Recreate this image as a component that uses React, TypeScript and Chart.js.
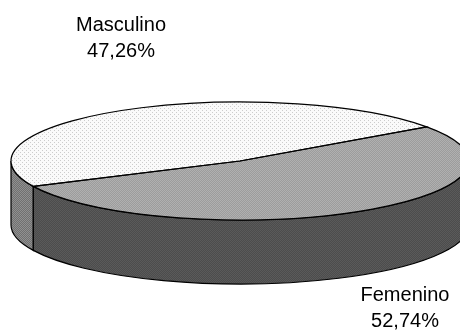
import React, { useEffect, useRef } from "react";
import { Chart, registerables } from "chart.js";

Chart.register(...registerables);

const categories = ["Masculino", "Femenino"];
const shares = [47.26, 52.74];
const shareLabels = ["47,26%", "52,74%"];
const topMasc = ["#fafafa", "#cccccc"];
const topFem = ["#9c9c9c", "#b0b0b0"];
const sideMasc = ["#707070", "#909090"];
const sideFem = ["#4c4c4c", "#5a5a5a"];

const CX = 240, CY = 161, RX = 229, RY = 59, DEPTH = 64;
const SY = RY / RX;

function dither(ctx: CanvasRenderingContext2D, a: string, b: string, period: number, scaled: boolean) {
  const c = document.createElement("canvas");
  c.width = period; c.height = period;
  const g = c.getContext("2d")!;
  g.fillStyle = a; g.fillRect(0, 0, period, period);
  g.fillStyle = b;
  g.fillRect(0, 0, 1, 1);
  g.fillRect(period / 2, period / 2, 1, 1);
  const p = ctx.createPattern(c, "repeat")!;
  if (scaled) p.setTransform(new DOMMatrix().scale(1, 1 / SY));
  return p;
}

const pie3d = {
  id: "pie3d",
  beforeDatasetsDraw(chart: any) {
    const ctx = chart.ctx as CanvasRenderingContext2D;
    const arcs = chart.getDatasetMeta(0).data;
    const fills = [dither(ctx, sideMasc[0], sideMasc[1], 2, false), dither(ctx, sideFem[0], sideFem[1], 2, false)];
    const cx = arcs[0].x, cy = arcs[0].y, r = arcs[0].outerRadius;
    const ry = r * SY;
    const norm = (a: number) => ((a % (2 * Math.PI)) + 2 * Math.PI) % (2 * Math.PI);
    arcs.forEach((arc: any, i: number) => {
      const s = norm(arc.startAngle);
      let e = norm(arc.endAngle);
      if (e <= s) e += 2 * Math.PI;
      for (const off of [0, 2 * Math.PI]) {
        const a = Math.max(s, off), b = Math.min(e, off + Math.PI);
        if (b <= a) continue;
        ctx.save();
        ctx.beginPath();
        ctx.ellipse(CX, CY, r, ry, 0, a, b);
        ctx.ellipse(CX, CY + DEPTH, r, ry, 0, b, a, true);
        ctx.closePath();
        ctx.fillStyle = fills[i];
        ctx.fill();
        ctx.strokeStyle = "#000";
        ctx.lineWidth = 1.2;
        ctx.stroke();
        ctx.restore();
      }
    });
    ctx.save();
    ctx.imageSmoothingEnabled = false;
    ctx.translate(CX, CY);
    ctx.scale(1, SY);
    ctx.translate(-cx, -cy);
  },
  afterDatasetsDraw(chart: any) {
    const ctx = chart.ctx as CanvasRenderingContext2D;
    ctx.restore();
    const arcs = chart.getDatasetMeta(0).data;
    const r = arcs[0].outerRadius;
    const ry = r * SY;
    ctx.save();
    ctx.strokeStyle = "#000";
    ctx.lineWidth = 1.2;
    arcs.forEach((arc: any) => {
      ctx.beginPath();
      ctx.moveTo(CX, CY);
      ctx.ellipse(CX, CY, r, ry, 0, arc.startAngle, arc.endAngle);
      ctx.closePath();
      ctx.stroke();
    });
    ctx.fillStyle = "#000";
    ctx.font = '20px "Liberation Sans", Arial, sans-serif';
    ctx.textAlign = "center";
    ctx.textBaseline = "alphabetic";
    ctx.fillText(categories[0], 121, 31);
    ctx.fillText(shareLabels[0], 121, 57);
    ctx.fillText(categories[1], 405, 301);
    ctx.fillText(shareLabels[1], 405, 327);
    ctx.restore();
  },
};

export default function App() {
  const ref = useRef<HTMLCanvasElement>(null);
  useEffect(() => {
    document.body.style.margin = "0";
    const canvas = ref.current!;
    const ctx = canvas.getContext("2d")!;
    const chart = new Chart(canvas, {
      type: "pie",
      data: {
        labels: categories,
        datasets: [{
          data: shares,
          backgroundColor: [dither(ctx, topMasc[0], topMasc[1], 4, true), dither(ctx, topFem[0], topFem[1], 2, true)],
          borderWidth: 0,
          clip: false,
        } as any],
      },
      options: {
        responsive: false,
        animation: false,
        rotation: 244.5,
        radius: RX,
        layout: { padding: 0 },
        plugins: { legend: { display: false }, tooltip: { enabled: false } },
      } as any,
      plugins: [pie3d],
    });
    return () => chart.destroy();
  }, []);
  return <canvas ref={ref} width={460} height={332} style={{ display: "block" }} />;
}
